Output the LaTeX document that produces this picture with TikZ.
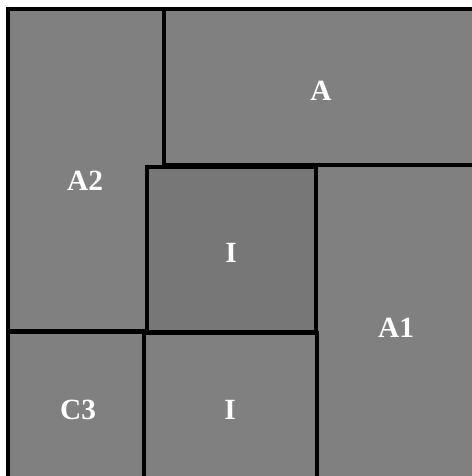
\documentclass[tikz,border=0pt]{standalone}
\usepackage{fontspec}
\setmainfont{Liberation Serif}
\definecolor{cellgray}{HTML}{808080}
\definecolor{coregray}{HTML}{777777}
\tikzset{
  cell/.style={fill=cellgray, draw=black, line width=2.4pt},
  core/.style={fill=coregray, draw=black, line width=2.4pt},
  lbl/.style={text=white, font=\fontsize{22}{26}\selectfont\bfseries, inner sep=0pt}
}
\begin{document}
\begin{tikzpicture}[x=0.75pt,y=-0.75pt]
\useasboundingbox (0,0) rectangle (472,476);
\clip (0,0) rectangle (472,476);
\fill[white] (0,0) rectangle (472,476);
% rectangles
\draw[cell] (8,9) rectangle (164,331);
\draw[cell] (164,9) rectangle (500,165);
\draw[cell] (316,165) rectangle (500,500);
\draw[cell] (8,332) rectangle (144,500);
\draw[cell] (144,333) rectangle (317,500);
\draw[core] (147,167) rectangle (316,332);
% labels
\node[lbl] (a)  at (321,91)  {A};
\node[lbl] (a2) at (85,181)  {A2};
\node[lbl] (i1) at (231,253) {I};
\node[lbl] (a1) at (396,328) {A1};
\node[lbl] (c3) at (78,410)  {C3};
\node[lbl] (i2) at (230,410) {I};
\end{tikzpicture}
\end{document}
